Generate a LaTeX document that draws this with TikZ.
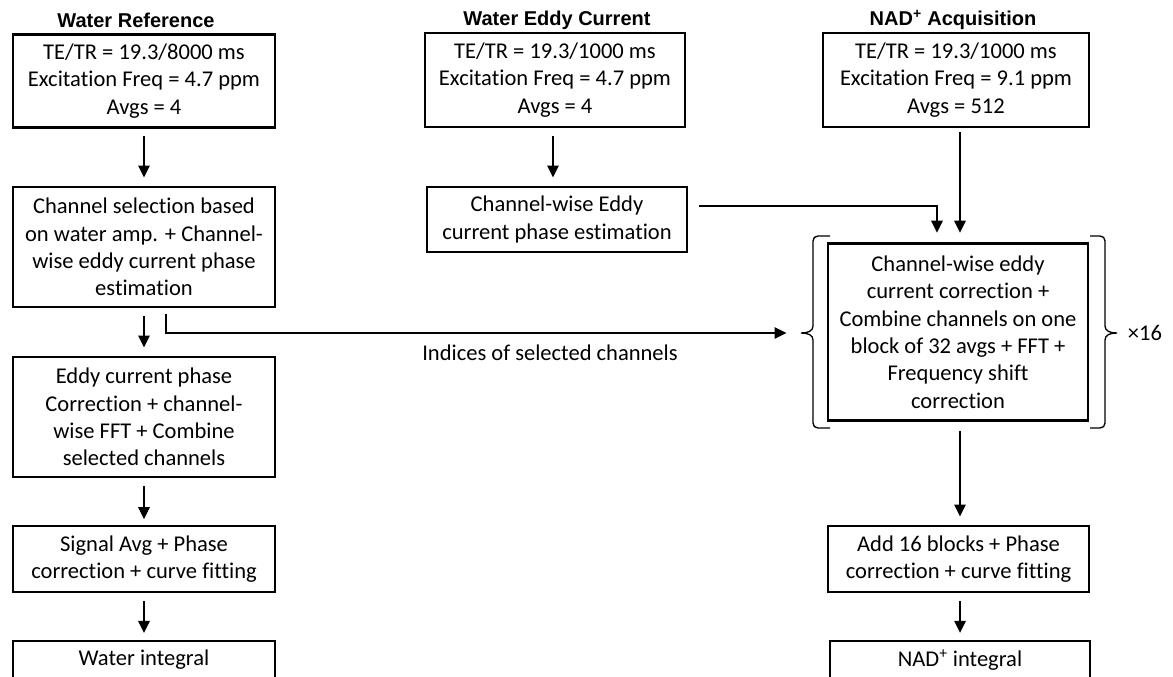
\documentclass[tikz,border=0pt]{standalone}
\usepackage{fontspec}
\setmainfont{Carlito}[Ligatures=NoCommon]
\newfontfamily\headfont{Liberation Sans}
\usetikzlibrary{arrows.meta,calc}
\begin{document}
\begin{tikzpicture}[x=0.75pt,y=-0.75pt,
  box/.style 2 args={draw, line width=2.2pt, minimum width=#1*0.75pt, minimum height=#2*0.75pt, inner sep=0pt, align=center, font=\fontsize{16.9}{20.6}\selectfont},
  head/.style={font=\headfont\bfseries\fontsize{15}{18}\selectfont, inner sep=0pt},
  arr/.style={line width=1.5pt, -{Triangle[length=9pt,width=8.5pt]}},
  brk/.style={line width=1pt},
  lbl/.style={font=\fontsize{16.9}{20.6}\selectfont, inner sep=0pt}]
\useasboundingbox (0,0) rectangle (1173,677);
\clip (0,0) rectangle (1173,677);

% headings
\node[head] (h1) at (136,20) {Water Reference};
\node[head] (h2) at (557,20) {Water Eddy Current};
\node[head] (h3) at (953,20) {NAD\textsuperscript{+} Acquisition};

% left column
\node[box={262}{93}] (b1) at (144,81) {TE/TR = 19.3/8000 ms\\Excitation Freq = 4.7 ppm\\Avgs = 4};
\node[box={262}{120}] (b2) at (144,247) {Channel selection based\\on water amp. + Channel-\\wise eddy current phase\\estimation};
\node[box={262}{120}] (b3) at (144,417) {Eddy current phase\\Correction + channel-\\wise FFT + Combine\\selected channels};
\node[box={262}{66}] (b4) at (144,559) {Signal Avg + Phase\\correction + curve fitting};
\node[box={262}{38}] (b5) at (144,660) {Water integral};

% middle column
\node[box={260}{94}] (m1) at (555,80) {TE/TR = 19.3/1000 ms\\Excitation Freq = 4.7 ppm\\Avgs = 4};
\node[box={260}{65}] (m2) at (557,219.5) {Channel-wise Eddy\\current phase estimation};

% right column
\node[box={266}{94}] (r1) at (956,80) {TE/TR = 19.3/1000 ms\\Excitation Freq = 9.1 ppm\\Avgs = 512};
\node[box={260}{177}] (r2) at (958,332) {Channel-wise eddy\\current correction +\\Combine channels on one\\block of 32 avgs + FFT +\\Frequency shift\\correction};
\node[box={261}{66}] (r3) at (958.5,559) {Add 16 blocks + Phase\\correction + curve fitting};
\node[box={260}{38}] (r4) at (960,660) {NAD\textsuperscript{+} integral};

% label and repeat count
\node[lbl] (idx) at (550,353) {Indices of selected channels};
\node[lbl] (x16) at (1145,333) {×16};

% vertical arrows
\draw[arr, shorten <=7.5pt*0.75, shorten >=6pt] (b1.south) -- (b2.north);
\draw[arr, shorten <=6pt, shorten >=6pt] (b2.south) -- (b3.north);
\draw[arr, shorten <=6pt, shorten >=4pt] (b3.south) -- (b4.north);
\draw[arr, shorten <=6pt, shorten >=5pt] (b4.south) -- (b5.north);
\draw[arr, shorten <=6pt, shorten >=6pt] ($(m1.south)+(-2,0)$) -- ($(m2.north)+(-4,0)$);
\draw[arr, shorten <=3pt, shorten >=7pt] ($(r1.south)+(4,0)$) -- ($(r2.north)+(2,0)$);
\draw[arr, shorten <=6.5pt, shorten >=6pt] ($(r2.south)+(2,0)$) -- ($(r3.north)+(1.5,0)$);
\draw[arr, shorten <=6pt, shorten >=5pt] ($(r3.south)+(1.5,0)$) -- (r4.north);

% eddy current phase to NAD block
\draw[arr, shorten >=7pt] ($(m2.east)+(11,-13.5)$) -| ($(r2.north)+(-21,0)$);
% indices of selected channels
\coordinate (brtip) at ($(r2.west)+(-40,1)$);
\draw[arr] ($(b2.south)+(22,6)$) |- (brtip);

% brackets around the NAD block
\draw[brk] (830,236) -- (818,236) .. controls (815,236) and (813,238) .. (813,241) -- (813,326)
  .. controls (813,331) and (808,333) .. (801,333) .. controls (808,333) and (813,335) .. (813,340)
  -- (813,423) .. controls (813,426) and (815,428) .. (818,428) -- (830,428);
\draw[brk] (1090,236) -- (1100,236) .. controls (1103,236) and (1105,238) .. (1105,241) -- (1105,326)
  .. controls (1105,331) and (1110,333) .. (1117,333) .. controls (1110,333) and (1105,335) .. (1105,340)
  -- (1105,423) .. controls (1105,426) and (1103,428) .. (1100,428) -- (1090,428);
\end{tikzpicture}
\end{document}
